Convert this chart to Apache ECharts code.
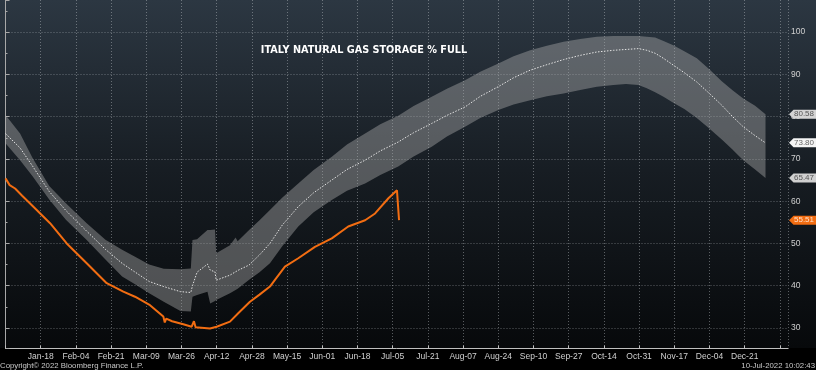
<!DOCTYPE html>
<html><head><meta charset="utf-8">
<script src="https://cdn.jsdelivr.net/npm/echarts@6/dist/echarts.min.js"></script>
<style>
html,body{margin:0;padding:0;background:#000;}
#c{width:816px;height:370px;background:linear-gradient(to bottom,#2c3742 0px,#171d23 170px,#07090b 348px,#000 348px,#000 370px);}
</style></head><body><div id="c"></div>
<script>
const xTickLabels = ['', 'Jan-18','Feb-04','Feb-21','Mar-09','Mar-26','Apr-12','Apr-28','May-15','Jun-01','Jun-18','Jul-05','Jul-21','Aug-07','Aug-24','Sep-10','Sep-27','Oct-14','Oct-31','Nov-17','Dec-04','Dec-21'];
const bandDays  = [0,7,13,21,29,39,48,56,62,69,76,84,89,89.8,92,97,98.3,100.6,101.2,107.8,110.5,111.5,117,122,127,133,140.6,148,156.7,164,172.7,180,188.6,196,204.7,212,220.7,228,236.7,244,252,260,268,276,284,292,298,304,308,312,316,320.7,326,332,338,344,349,354.3,360,365];
const bandUpper = [80.4,76.0,70.2,63.6,59.5,54.8,50.9,48.5,46.9,45.0,44.0,43.9,44.1,50.8,51.0,53.2,53.2,53.3,47.7,49.6,51.4,50.5,53.2,55.5,57.9,60.9,64.2,67.4,70.5,73.4,76.0,78.2,80.2,82.5,84.7,86.6,88.6,90.6,92.6,94.3,95.7,96.8,97.7,98.4,98.9,99.1,99.1,99.1,98.9,98.7,97.9,96.9,95.5,93.8,91.2,88.4,86.3,84.3,82.6,80.58];
const bandLower = [73.7,69.7,65.9,60.4,55.6,50.8,46.2,42.2,40.4,38.2,36.2,34.0,33.9,37.4,37.8,38.6,35.8,36.4,36.6,38.2,39.0,39.3,41.4,43.2,45.3,49.4,54.0,57.4,60.3,62.5,64.2,66.2,68.2,70.6,72.9,75.3,77.6,79.7,81.6,82.9,83.9,84.8,85.5,86.3,87.1,87.5,87.7,87.5,86.7,85.8,84.7,83.3,81.8,79.7,77.2,74.6,72.3,69.7,67.5,65.47];
const bandAvg   = [76.0,72.6,68.3,62.3,57.8,52.9,48.6,45.3,43.3,41.0,39.8,38.6,38.4,40.0,43.2,45.1,43.7,43.3,41.3,42.5,43.3,43.6,44.9,47.3,50.0,54.4,58.7,62.0,65.0,67.5,69.7,71.9,74.0,76.2,78.4,80.3,82.3,84.8,87.1,89.2,91.0,92.3,93.5,94.5,95.3,95.7,95.9,96.1,95.7,95.0,93.8,92.2,90.4,88.2,85.5,82.7,80.1,77.6,75.5,73.80];
const curDays   = [0,2,4.6,8,13.4,21.4,29.4,39,48.6,56.6,62.2,69.4,75.8,76.5,77.2,80,85.4,89.4,90.5,91.3,98.2,101.4,107.8,112,117.4,122,127,129.4,134.2,140.6,148.6,156.7,164.6,172.7,177.5,183.9,188,189];
const curValues = [65.4,63.8,63.0,61.3,58.7,54.8,50.0,45.3,40.6,38.6,37.4,35.4,32.7,31.3,32.2,31.6,30.9,30.3,31.6,30.2,29.9,30.3,31.5,33.6,36.2,37.9,39.8,41.4,44.5,46.5,49.2,51.2,54.0,55.5,57.1,60.7,62.6,55.51];

const X_INTERVAL = 355 / 21;
const X_MAX = 375.8;
const last = a => a[a.length - 1];
const zip = (xs, ys) => xs.map((x, i) => [x, ys[i]]);
const FONT = "'Liberation Sans', Arial, sans-serif";

const chart = echarts.init(document.getElementById('c'), null, {renderer: 'canvas'});
chart.setOption({
  backgroundColor: 'transparent',
  animation: false,
  grid: {left: 5.5, right: 28, top: 0, bottom: 21.5, containLabel: false},
  xAxis: {
    type: 'value', min: 0, max: X_MAX, interval: X_INTERVAL,
    axisLine: {show: true, lineStyle: {color: '#bfbfbf', width: 1}},
    axisTick: {show: true, inside: true, length: 3, lineStyle: {color: '#bfbfbf'}},
    axisLabel: {
      color: '#d0d0d0', fontSize: 8.5, fontFamily: FONT, margin: 4,
      showMaxLabel: false,
      formatter: v => {
        const i = Math.round(v / X_INTERVAL);
        if (Math.abs(v - i * X_INTERVAL) > 0.01) return '';
        return xTickLabels[i] || '';
      }
    },
    splitLine: {show: true, lineStyle: {color: 'rgba(200,205,210,0.42)', type: [1, 2], width: 1}}
  },
  yAxis: {
    type: 'value', position: 'right', min: 25.15, max: 107.6,
    splitNumber: 8, minInterval: 10, maxInterval: 10,
    axisLine: {show: true, lineStyle: {color: '#a8a8a8', width: 1}},
    axisTick: {show: true, length: 4, lineStyle: {color: '#a8a8a8'}},
    minorTick: {show: true, splitNumber: 2, length: 2, lineStyle: {color: '#a8a8a8'}},
    axisLabel: {color: '#d0d0d0', fontSize: 8.5, fontFamily: FONT, margin: 3, showMinLabel: false, showMaxLabel: false},
    splitLine: {show: true, showMinLine: false, showMaxLine: false, lineStyle: {color: 'rgba(200,205,210,0.42)', type: [1, 2], width: 1}}
  },
  graphic: [
    {type: 'text', x: 364, y: 50, style: {text: 'ITALY NATURAL GAS STORAGE % FULL', fill: '#ffffff', font: "bold 9.7px 'DejaVu Sans', sans-serif", textAlign: 'center', textVerticalAlign: 'middle'}},
    {type: 'text', x: 0, y: 366, style: {text: 'Copyright\u00a9 2022 Bloomberg Finance L.P.', fill: '#c8c8c8', font: "7.8px " + FONT, textAlign: 'left', textVerticalAlign: 'middle'}},
    {type: 'text', x: 815, y: 366, style: {text: '10-Jul-2022 10:02:43', fill: '#c8c8c8', font: "7.8px " + FONT, textAlign: 'right', textVerticalAlign: 'middle'}}
  ],
  series: [
    {
      type: 'custom', name: 'range', z: 1,
      data: bandDays.map((d, i) => [d, bandUpper[i], bandLower[i]]),
      encode: {x: 0, y: [1, 2]},
      renderItem: function (params, api) {
        if (params.dataIndex !== 0) return null;
        const pts = [];
        for (let i = 0; i < bandDays.length; i++) pts.push(api.coord([bandDays[i], bandUpper[i]]));
        for (let i = bandDays.length - 1; i >= 0; i--) pts.push(api.coord([bandDays[i], bandLower[i]]));
        return {type: 'polygon', shape: {points: pts}, style: {fill: 'rgba(175,175,175,0.42)'}};
      }
    },
    {
      type: 'line', name: 'average', z: 3, symbol: 'none',
      data: zip(bandDays, bandAvg),
      lineStyle: {color: '#e4e4e4', width: 1, type: [1.5, 1.5]},
      markPoint: {
        symbol: 'path://M0,5L5,0L30,0L30,10L5,10Z',
        symbolSize: [27, 9], symbolOffset: [14.5, 0],
        silent: true,
        label: {show: true, position: 'inside', offset: [1.5, 0], fontSize: 8, fontFamily: FONT, formatter: p => Number(p.value).toFixed(2)},
        data: [
          {coord: [X_MAX, last(bandUpper)], value: last(bandUpper), itemStyle: {color: '#d4d4d4'}, label: {color: '#555555'}},
          {coord: [X_MAX, last(bandAvg)], value: last(bandAvg), itemStyle: {color: '#f4f4f4'}, label: {color: '#666666'}},
          {coord: [X_MAX, last(bandLower)], value: last(bandLower), itemStyle: {color: '#d0d0d0'}, label: {color: '#555555'}},
          {coord: [X_MAX, last(curValues)], value: last(curValues), itemStyle: {color: '#f26d12'}, label: {color: '#ffe0cc'}}
        ]
      }
    },
    {
      type: 'line', name: 'current', z: 4, symbol: 'none',
      data: zip(curDays, curValues),
      lineStyle: {color: '#f26d12', width: 2}
    }
  ]
});
</script></body></html>
